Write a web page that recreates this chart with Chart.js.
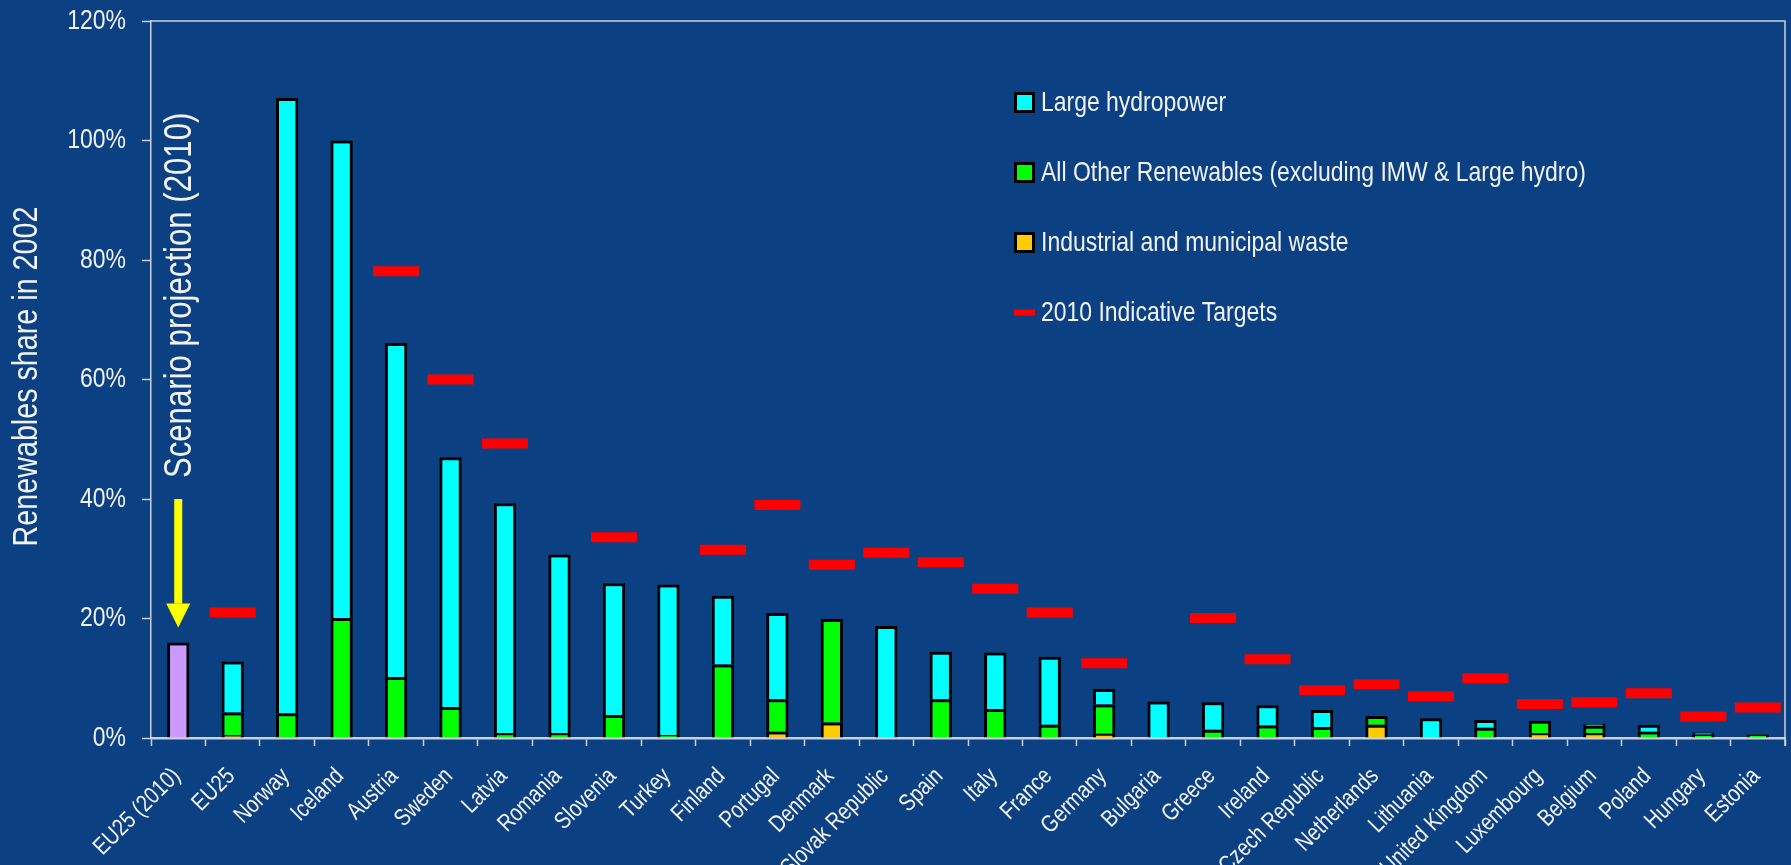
<!DOCTYPE html>
<html>
<head>
<meta charset="utf-8">
<title>Renewables share in 2002</title>
<script src="https://cdn.jsdelivr.net/npm/chart.js@4.4.1/dist/chart.umd.min.js"></script>
<style>
  html, body { margin: 0; padding: 0; background: #0B4182; }
  #wrap { width: 1791px; height: 865px; }
</style>
</head>
<body>
<div id="wrap"><canvas id="myCanvasBarGraph" width="1791" height="865"></canvas></div>
<script>
var countries = ['EU25 (2010)', 'EU25', 'Norway', 'Iceland', 'Austria', 'Sweden', 'Latvia', 'Romania',
	'Slovenia', 'Turkey', 'Finland', 'Portugal', 'Denmark', 'Slovak Republic', 'Spain', 'Italy', 'France',
	'Germany', 'Bulgaria', 'Greece', 'Ireland', 'Czech Republic', 'Netherlands', 'Lithuania',
	'United Kingdom', 'Luxembourg', 'Belgium', 'Poland', 'Hungary', 'Estonia'];

// shares in %
var scenario2010 = [16, null, null, null, null, null, null, null, null, null, null, null, null, null, null,
	null, null, null, null, null, null, null, null, null, null, null, null, null, null, null];
var wasteShare = [null, 0.45, 0, 0, 0, 0, 0, 0, 0, 0, 0, 1.05, 2.6, 0, 0, 0, 0, 0.7, 0, 0, 0, 0, 2.2, 0,
	0, 0.8, 0.85, 0, 0, 0];
var otherShare = [null, 3.8, 4.15, 20.1, 10.2, 5.2, 0.85, 0.85, 3.85, 0.5, 12.3, 5.45, 17.3, 0, 6.5, 4.85,
	2.2, 4.9, 0, 1.4, 2.1, 1.85, 1.5, 0, 1.7, 2.1, 1.2, 1.05, 0.6, 0.6];
var hydroShare = [null, 8.55, 102.95, 79.9, 55.9, 41.8, 38.45, 29.85, 22.05, 25.2, 11.5, 14.4, 0, 18.75,
	7.95, 9.45, 11.4, 2.6, 6.1, 4.6, 3.4, 2.85, 0, 3.3, 1.3, 0, 0.35, 1.15, 0.3, 0];
var targets2010 = [null, 21, null, null, 78.1, 60, 49.3, null, 33.6, null, 31.5, 39, 29, 31, 29.4, 25, 21,
	12.5, null, 20.1, 13.2, 8, 9, 7, 10, 5.7, 6, 7.5, 3.6, 5.1];
var yTicks = [0, 20, 40, 60, 80, 100, 120];

var fontFamily = "'Liberation Sans', Arial, sans-serif";
var narrow = 0.82; // the picture uses a narrow face
var textColor = '#F2F2F7';
var lineColor = 'rgba(215,215,225,0.95)';

function drawNarrow(ctx, text, x, y, size, align, baseline, angle) {
	ctx.save();
	ctx.translate(x, y);
	if (angle) ctx.rotate(angle);
	ctx.scale(narrow, 1);
	ctx.font = size + 'px ' + fontFamily;
	ctx.textAlign = align;
	ctx.textBaseline = baseline;
	ctx.fillStyle = textColor;
	ctx.fillText(text, 0, 0);
	ctx.restore();
}

// frame, axis texts, arrow + note for the scenario bar, legend
var extras = {
	id: 'extras',
	afterDraw: function(chart) {
		var ctx = chart.ctx;
		var area = chart.chartArea;
		var x = chart.scales.x;
		var y = chart.scales.y;
		ctx.save();
		ctx.strokeStyle = lineColor;
		ctx.lineWidth = 1.5;
		ctx.beginPath();
		ctx.moveTo(area.left, area.top);
		ctx.lineTo(area.right, area.top);
		ctx.lineTo(area.right, area.bottom + 8);
		ctx.stroke();
		ctx.restore();

		yTicks.forEach(function(v) {
			drawNarrow(ctx, v + '%', area.left - 25, y.getPixelForValue(v), 28, 'right', 'middle', 0);
		});
		drawNarrow(ctx, 'Renewables share in 2002', 27, (area.top + area.bottom) / 2 - 3, 35, 'center', 'middle', -Math.PI / 2);
		chart.data.labels.forEach(function(lab, i) {
			drawNarrow(ctx, lab, x.getPixelForValue(i) - 10, area.bottom + 26, 24, 'right', 'top', -Math.PI / 4);
		});

		// arrow
		var ax = x.getPixelForValue(0);
		var yStart = y.getPixelForValue(40);
		var yHead = y.getPixelForValue(22.5);
		var yTip = y.getPixelForValue(18.5);
		ctx.save();
		ctx.fillStyle = '#FFFF00';
		ctx.fillRect(ax - 4, yStart, 8, yHead - yStart);
		ctx.beginPath();
		ctx.moveTo(ax - 12, yHead);
		ctx.lineTo(ax + 12, yHead);
		ctx.lineTo(ax, yTip);
		ctx.closePath();
		ctx.fill();
		ctx.restore();
		drawNarrow(ctx, 'Scenario projection (2010)', ax + 13, y.getPixelForValue(43.5), 38, 'left', 'alphabetic', -Math.PI / 2);

		// legend
		var lx = 1014, ly = 102.5, gap = 70;
		var items = chart.data.datasets.filter(function(ds) { return ds.legendRank; });
		items.sort(function(a, b) { return a.legendRank - b.legendRank; });
		ctx.save();
		items.forEach(function(ds) {
			if (ds.type === 'line') {
				ctx.fillStyle = ds.pointBorderColor;
				ctx.fillRect(lx, ly - 3, 21, 6);
			} else {
				ctx.fillStyle = '#000000';
				ctx.fillRect(lx, ly - 10.5, 21, 21);
				ctx.fillStyle = ds.backgroundColor;
				ctx.fillRect(lx + 3, ly - 7.5, 15, 15);
			}
			drawNarrow(ctx, ds.label, lx + 27, ly + 1, 28, 'left', 'middle', 0);
			ly += gap;
		});
		ctx.restore();
	}
};

var barStyle = {
	borderColor: '#000000',
	borderWidth: 3,
	barPercentage: 0.41,
	categoryPercentage: 1,
	stack: 'shares'
};

var chartdata = {
	labels: countries,
	datasets: [
		Object.assign({ label: 'Industrial and municipal waste', data: wasteShare, backgroundColor: '#FFCC00', legendRank: 3 }, barStyle),
		Object.assign({ label: 'All Other Renewables (excluding IMW & Large hydro)', data: otherShare, backgroundColor: '#00FF00', legendRank: 2 }, barStyle),
		Object.assign({ label: 'Large hydropower', data: hydroShare, backgroundColor: '#00FFFF', legendRank: 1 }, barStyle),
		Object.assign({ label: 'EU25 scenario 2010', data: scenario2010, backgroundColor: '#CC99FF' }, barStyle),
		{
			type: 'line',
			label: '2010 Indicative Targets',
			legendRank: 4,
			data: targets2010,
			showLine: false,
			pointStyle: 'line',
			pointRadius: 23,
			pointBorderWidth: 10,
			pointBorderColor: '#FF0000',
			pointBackgroundColor: '#FF0000',
			stack: 'targets',
			order: -1
		}
	]
};

var ctx = document.getElementById('myCanvasBarGraph');

var barGraph = new Chart(ctx, {
	type: 'bar',
	data: chartdata,
	plugins: [extras],
	options: {
		responsive: false,
		animation: false,
		events: [],
		layout: { autoPadding: false, padding: { top: 21, right: 6, left: 0, bottom: 0 } },
		plugins: {
			legend: { display: false },
			tooltip: { enabled: false }
		},
		scales: {
			x: {
				stacked: true,
				afterFit: function(scale) { scale.height = 127; },
				grid: {
					drawOnChartArea: false,
					color: lineColor,
					tickLength: 8,
					tickWidth: 1.5
				},
				border: { color: lineColor, width: 2.5 },
				ticks: { display: false, autoSkip: false }
			},
			y: {
				stacked: true,
				min: 0,
				max: 120,
				afterFit: function(scale) { scale.width = 151; },
				afterBuildTicks: function(scale) {
					scale.ticks = yTicks.map(function(v) { return { value: v }; });
				},
				grid: {
					drawOnChartArea: false,
					color: lineColor,
					tickLength: 9,
					tickWidth: 1.5
				},
				border: { color: lineColor, width: 1.5 },
				ticks: { display: false }
			}
		}
	}
});
</script>
</body>
</html>
